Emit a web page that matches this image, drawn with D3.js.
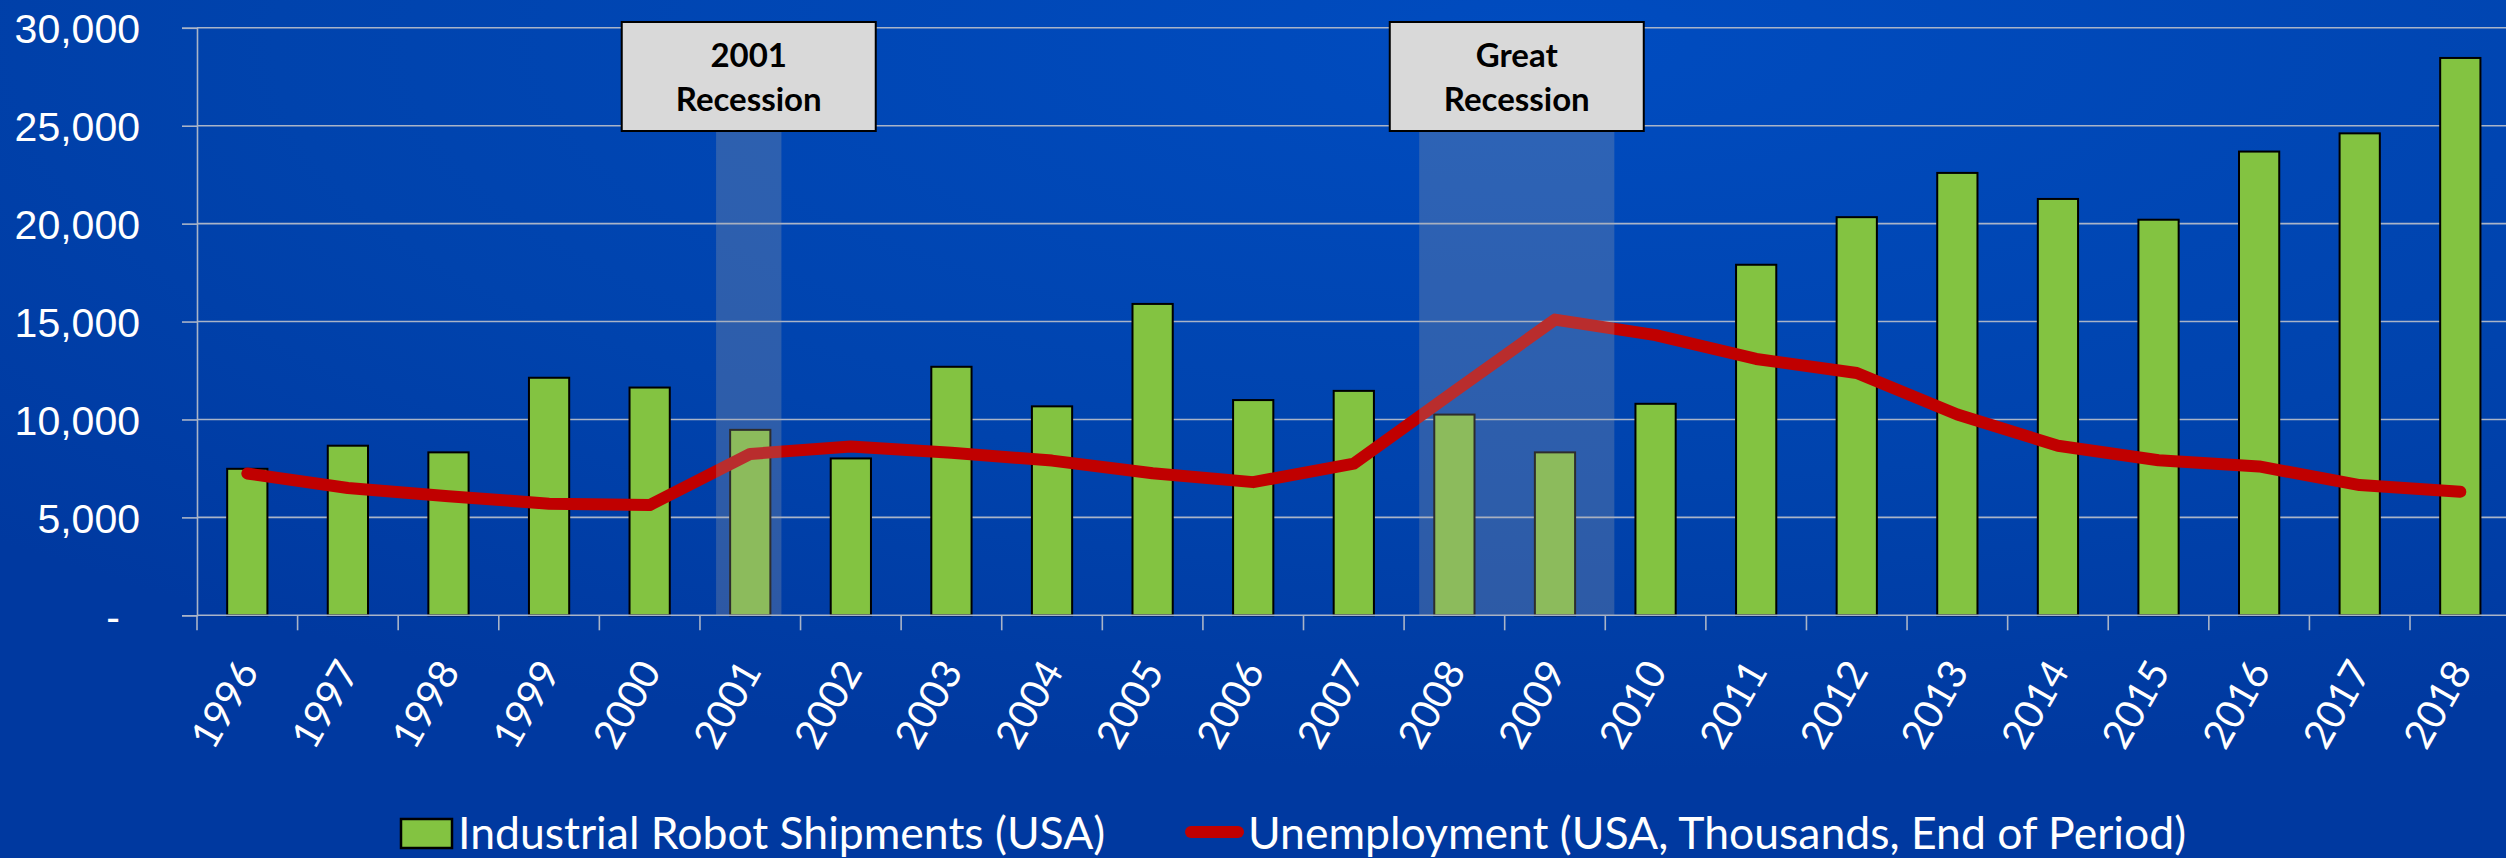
<!DOCTYPE html>
<html lang="en">
<head>
<meta charset="UTF-8">
<title>Industrial Robot Shipments vs Unemployment (USA)</title>
<script src="https://d3js.org/d3.v7.min.js"></script>
<style>
  body { margin: 0; background: #0042aa; overflow: hidden; }
  svg { display: block; font-family: Lato, 'Open Sans', sans-serif; }
  .y-axis text { fill: #fff; font-size: 41px; }
  .x-axis text { fill: #fff; font-size: 40px; }
  .legend-item { fill: #fff; font-size: 44.5px; }
  .box-label { fill: #000; font-size: 33px; font-weight: bold; }
</style>
</head>
<body>
<div id="chart"></div>
<script>
// ---- data ----
const years = ["1996", "1997", "1998", "1999", "2000", "2001", "2002", "2003", "2004", "2005", "2006", "2007",
               "2008", "2009", "2010", "2011", "2012", "2013", "2014", "2015", "2016", "2017", "2018"];
const robotShipments = [7480, 8660, 8320, 12130, 11630, 9470, 8010, 12690, 10670, 15900, 10990, 11460,
                        10250, 8320, 10800, 17900, 20330, 22590, 21260, 20200, 23680, 24610, 28460];
const unemployment = [7240, 6500, 6080, 5700, 5630, 8240, 8620, 8300, 7900, 7250, 6800, 7750,
                      11430, 15100, 14310, 13090, 12370, 10250, 8660, 7920, 7600, 6650, 6310];
const yTicks = [0, 5000, 10000, 15000, 20000, 25000, 30000];
const recessionLabels = [["2001", "Recession"], ["Great", "Recession"]];
const recessionStart = [2000.66, 2007.65];
const recessionEnd = [2001.31, 2009.59];
const legendLabels = ["Industrial Robot Shipments (USA)", "Unemployment (USA, Thousands, End of Period)"];

const W = 2506, H = 858;
const plotLeft = 197, plotRight = 2510.6, plotTop = 27.8, plotBottom = 615.3;

const svg = d3.select("#chart").append("svg")
    .attr("width", W).attr("height", H);

// background gradient
const defs = svg.append("defs");
const grad = defs.append("radialGradient")
    .attr("id", "bg").attr("cx", "0.62").attr("cy", "0.05").attr("r", "0.85");
grad.append("stop").attr("offset", "0%").attr("stop-color", "#004cc0");
grad.append("stop").attr("offset", "60%").attr("stop-color", "#0043ad");
grad.append("stop").attr("offset", "100%").attr("stop-color", "#0039a0");
svg.append("rect").attr("width", W).attr("height", H).attr("fill", "url(#bg)");

const x = d3.scaleBand()
    .domain(years)
    .range([plotLeft, plotRight])
    .paddingInner(0.6)
    .paddingOuter(0.3);

const y = d3.scaleLinear()
    .domain([0, 30000])
    .range([plotBottom, plotTop]);

// continuous year scale for the recession spans (year -> category centre)
const xYear = d3.scaleLinear()
    .domain([+years[0], +years[years.length - 1]])
    .range([x(years[0]) + x.bandwidth() / 2, x(years[years.length - 1]) + x.bandwidth() / 2]);

// gridlines
svg.append("g")
    .selectAll("line")
    .data(yTicks.slice(1))
    .enter().append("line")
    .attr("x1", plotLeft).attr("x2", W)
    .attr("y1", d => y(d)).attr("y2", d => y(d))
    .attr("stroke", "#a9b4c8").attr("stroke-width", 1.6);

// bars
svg.append("g")
    .selectAll("rect")
    .data(robotShipments)
    .enter().append("rect")
    .attr("x", (d, i) => x(years[i]))
    .attr("y", d => y(d))
    .attr("width", x.bandwidth())
    .attr("height", d => y(0) - y(d))
    .attr("fill", "#83c341")
    .attr("stroke", "#000")
    .attr("stroke-width", 2);

// unemployment line
const line = d3.line()
    .x((d, i) => x(years[i]) + x.bandwidth() / 2)
    .y(d => y(d));

svg.append("path")
    .datum(unemployment)
    .attr("d", line)
    .attr("fill", "none")
    .attr("stroke", "#c00000")
    .attr("stroke-width", 12)
    .attr("stroke-linejoin", "round")
    .attr("stroke-linecap", "round");

// axes
const yAxis = svg.append("g")
    .attr("class", "y-axis")
    .attr("transform", `translate(${plotLeft},0)`)
    .call(d3.axisLeft(y).tickValues(yTicks).tickSize(15).tickPadding(42)
        .tickFormat(d => d === 0 ? "-" : d3.format(",")(d)));
yAxis.select(".domain").attr("stroke", "#a9b4c8").attr("stroke-width", 1.6);
yAxis.selectAll(".tick line").attr("stroke", "#a9b4c8").attr("stroke-width", 1.6);
yAxis.selectAll(".tick text").attr("dy", "0.36em")
    .filter(d => d === 0).attr("dx", "-20px");

// baseline and category boundary ticks
svg.append("line")
    .attr("x1", plotLeft).attr("x2", W)
    .attr("y1", y(0)).attr("y2", y(0))
    .attr("stroke", "#a9b4c8").attr("stroke-width", 1.6);
svg.append("g")
    .selectAll("line")
    .data(years)
    .enter().append("line")
    .attr("x1", d => x(d) - (x.step() - x.bandwidth()) / 2)
    .attr("x2", d => x(d) - (x.step() - x.bandwidth()) / 2)
    .attr("y1", y(0)).attr("y2", y(0) + 15)
    .attr("stroke", "#a9b4c8").attr("stroke-width", 1.6);

// rotated year labels
svg.append("g")
    .attr("class", "x-axis")
    .selectAll("text")
    .data(years)
    .enter().append("text")
    .attr("transform", d => `translate(${x(d) + x.bandwidth() / 2},664) rotate(-60)`)
    .attr("text-anchor", "end")
    .attr("dy", "0.36em")
    .text(d => d);

// recession shading and label boxes
const boxW = 254, boxTop = 22, boxBottom = 131;
recessionLabels.forEach((lab, i) => {
    const x0 = xYear(recessionStart[i]), x1 = xYear(recessionEnd[i]);
    const cx = (x0 + x1) / 2;
    svg.append("rect")
        .attr("x", x0).attr("y", boxBottom)
        .attr("width", x1 - x0).attr("height", y(0) - boxBottom)
        .attr("fill", "#a6a6a6").attr("fill-opacity", 0.27);
    svg.append("rect")
        .attr("x", cx - boxW / 2).attr("y", boxTop)
        .attr("width", boxW).attr("height", boxBottom - boxTop)
        .attr("fill", "#d9d9d9").attr("stroke", "#000").attr("stroke-width", 2);
    svg.selectAll(null)
        .data(lab)
        .enter().append("text")
        .attr("class", "box-label")
        .attr("x", cx)
        .attr("y", (d, j) => [55, 99.5][j])
        .attr("dy", "0.36em")
        .attr("text-anchor", "middle")
        .text(d => d);
});

// legend
const legend = svg.append("g");
legend.append("rect")
    .attr("x", 401).attr("y", 819).attr("width", 51).attr("height", 29)
    .attr("fill", "#83c341").attr("stroke", "#000").attr("stroke-width", 2.5);
legend.append("text")
    .attr("class", "legend-item")
    .attr("x", 458).attr("y", 833).attr("dy", "0.36em")
    .text(legendLabels[0]);
legend.append("line")
    .attr("x1", 1191).attr("x2", 1238).attr("y1", 832).attr("y2", 832)
    .attr("stroke", "#c00000").attr("stroke-width", 12).attr("stroke-linecap", "round");
legend.append("text")
    .attr("class", "legend-item")
    .attr("x", 1248).attr("y", 833).attr("dy", "0.36em")
    .text(legendLabels[1]);
</script>
</body>
</html>
